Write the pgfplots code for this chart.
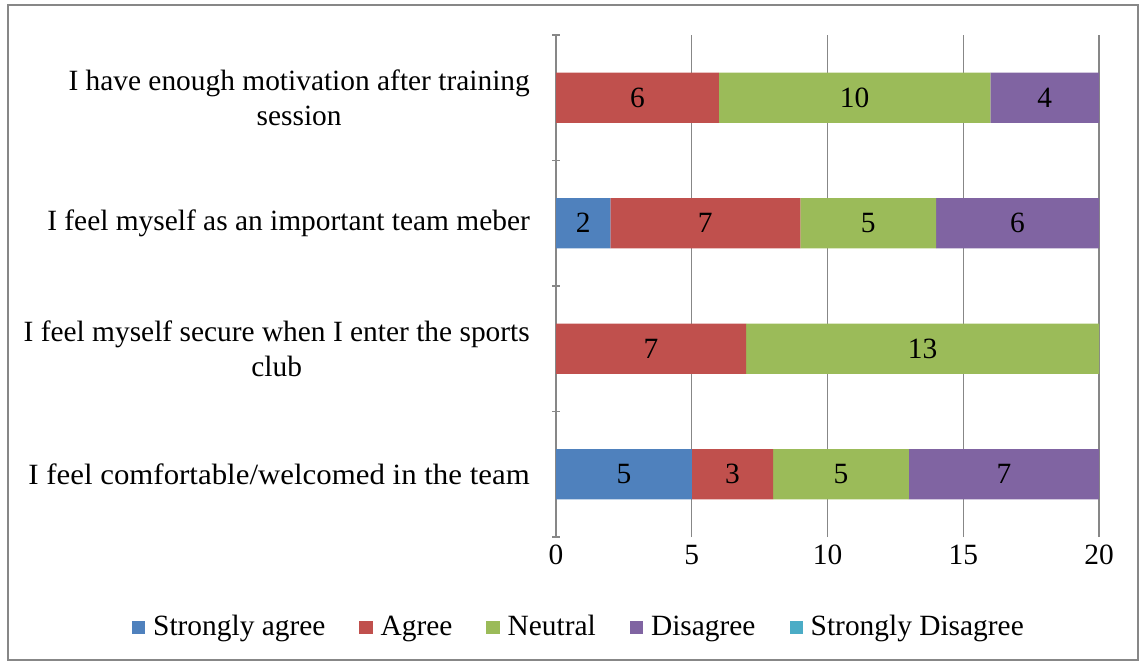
\documentclass[border=0pt]{standalone}
\usepackage{fontspec}
\setmainfont{Liberation Serif}
\usepackage{pgfplots}
\pgfplotsset{compat=1.18}
\definecolor{cSA}{HTML}{4F81BD}
\definecolor{cA}{HTML}{C0504D}
\definecolor{cN}{HTML}{9BBB59}
\definecolor{cD}{HTML}{8064A2}
\definecolor{cSD}{HTML}{4BACC6}
\definecolor{gridc}{HTML}{878787}
\newcommand{\cf}{\fontsize{14.7}{17.5}\selectfont}
\begin{document}
\cf
\begin{tikzpicture}
\path[use as bounding box] (0,0) rectangle (571.5pt,-332pt);
\draw[gridc, line width=1pt] (4pt,-2.5pt) rectangle (569pt,-330pt);
\begin{axis}[
  at={(278pt,-268.5pt)}, anchor=south west,
  scale only axis, width=271.5pt, height=251pt,
  xbar stacked, bar width=0.4,
  xmin=0, xmax=20, ymin=-0.5, ymax=3.5,
  xtick={0,5,10,15,20},
  ytick={0,1,2,3},
  yticklabels={{\scalebox{1.05}[1]{I feel comfortable/welcomed in the team}},{I feel myself secure when I enter the sports\\club},{I feel myself as an important team meber},{I have enough motivation after training\\session}},
  yticklabel style={align=center, font=\cf, xshift=-8pt},
  xticklabel style={font=\cf, yshift=1pt},
  /pgf/number format/assume math mode=true,
  minor ytick={-0.5,0.5,1.5,2.5,3.5},
  tick align=outside,
  major tick length=0pt,
  minor tick length=4pt,
  minor y tick style={gridc, line width=0.6pt},
  xmajorgrids, grid style={gridc, line width=0.6pt},
  axis lines=left,
  axis line style={-},
  x axis line style={draw=none},
  y axis line style={gridc, line width=0.6pt},
  legend columns=5,
  legend style={draw=none, at={(0.044,-0.181)}, anchor=center, font=\cf,
    /tikz/every even column/.append style={column sep=15pt},
    /tikz/every odd column/.append style={column sep=2pt}},
  legend image code/.code={\fill[#1] (0pt,-3.3pt) rectangle (6.6pt,3.3pt);},
]
\addplot[fill=cSA, draw=none] coordinates {(5,0) (0,1) (2,2) (0,3)};
\addplot[fill=cA, draw=none] coordinates {(3,0) (7,1) (7,2) (6,3)};
\addplot[fill=cN, draw=none] coordinates {(5,0) (13,1) (5,2) (10,3)};
\addplot[fill=cD, draw=none] coordinates {(7,0) (0,1) (6,2) (4,3)};
\addplot[fill=cSD, draw=none] coordinates {(0,0) (0,1) (0,2) (0,3)};
\legend{Strongly agree, Agree, Neutral, Disagree, Strongly Disagree}
\end{axis}
\begin{axis}[
  at={(278pt,-268.5pt)}, anchor=south west,
  scale only axis, width=271.5pt, height=251pt,
  xmin=0, xmax=20, ymin=-0.5, ymax=3.5,
  hide axis,
]
\addplot[draw=none, mark=none, nodes near coords, point meta=explicit symbolic,
  nodes near coords align=center,
  every node near coord/.append style={font=\cf, text=black}]
  coordinates {
  (2.5,0) [5] (6.5,0) [3] (10.5,0) [5] (16.5,0) [7]
  (3.5,1) [7] (13.5,1) [13]
  (1,2) [2] (5.5,2) [7] (11.5,2) [5] (17,2) [6]
  (3,3) [6] (11,3) [10] (18,3) [4]
  };
\end{axis}
\end{tikzpicture}
\end{document}
